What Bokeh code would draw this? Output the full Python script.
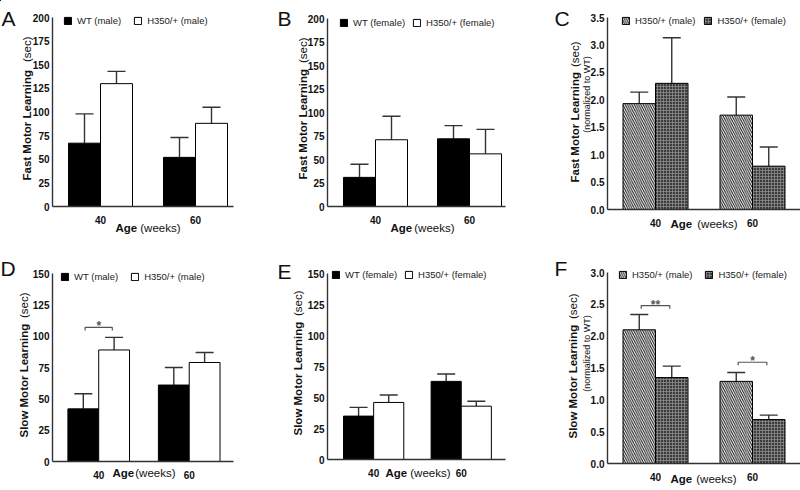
import math
from bokeh.plotting import figure
from bokeh.layouts import row, column
from bokeh.models import (Range1d, FixedTicker, Whisker, TeeHead, GridBox, Legend,
                          LegendItem, ColumnDataSource, CustomJSTickFormatter)
from bokeh.embed import file_html
from bokeh.resources import INLINE
from bokeh.core.properties import value

FONT = "Liberation Sans"

# ---------------- data ----------------
age_labels = ["40", "60"]

# A: Fast motor learning, males (sec)
a_wt_mean = [67, 52]
a_wt_err = [31, 21]
a_mut_mean = [130, 88]
a_mut_err = [13, 17]

# B: Fast motor learning, females (sec)
b_wt_mean = [31, 72]
b_wt_err = [14, 14]
b_mut_mean = [71, 56]
b_mut_err = [25, 26]

# C: Fast motor learning normalized to WT
c_male_mean = [1.93, 1.72]
c_male_err = [0.21, 0.33]
c_female_mean = [2.30, 0.79]
c_female_err = [0.83, 0.35]

# D: Slow motor learning, males (sec)
d_wt_mean = [42, 61]
d_wt_err = [12, 14]
d_mut_mean = [89, 79]
d_mut_err = [10, 8]

# E: Slow motor learning, females (sec)
e_wt_mean = [35, 63]
e_wt_err = [7, 6]
e_mut_mean = [46, 43]
e_mut_err = [6, 4]

# F: Slow motor learning normalized to WT
f_male_mean = [2.10, 1.29]
f_male_err = [0.24, 0.14]
f_female_mean = [1.35, 0.69]
f_female_err = [0.18, 0.07]

# significance brackets: (age index, level, mark)
d_sig = [(0, 107, "*")]
f_sig = [(0, 2.48, "**"), (1, 1.59, "*")]

sec_ticks = [0, 25, 50, 75, 100, 125, 150, 175, 200]
sec_tick_labels = ["0", "25", "50", "75", "100", "125", "150", "175", "200"]
sec2_ticks = [0, 25, 50, 75, 100, 125, 150]
sec2_tick_labels = ["0", "25", "50", "75", "100", "125", "150"]
norm_ticks = [0, 0.5, 1.0, 1.5, 2.0, 2.5, 3.0, 3.5]
norm_tick_labels = ["0.0", "0.5", "1.0", "1.5", "2.0", "2.5", "3.0", "3.5"]
norm2_ticks = [0, 0.5, 1.0, 1.5, 2.0, 2.5, 3.0]
norm2_tick_labels = ["0.0", "0.5", "1.0", "1.5", "2.0", "2.5", "3.0"]

STYLE_WT = dict(fill_color="black")
STYLE_MUT = dict(fill_color="white")
STYLE_MALE = dict(fill_color="white", hatch_pattern="\\", hatch_color="#111111",
                  hatch_scale=4.5, hatch_weight=1)
STYLE_FEMALE = dict(fill_color="#3c3c3c", hatch_pattern="+", hatch_color="#8c8c8c",
                    hatch_scale=3, hatch_weight=0.8)

W_PAGE, H_PAGE = 800, 490
TITLE_SIZE = "11.5px"

# overlay figure for the texts and legends that sit outside the panels' frames
ov = figure(width=W_PAGE, height=H_PAGE, x_range=Range1d(0, W_PAGE),
            y_range=Range1d(H_PAGE, 0), x_axis_type=None, y_axis_type=None,
            output_backend="svg", toolbar_location=None,
            min_border_left=0, min_border_right=0, min_border_top=0, min_border_bottom=0)
ov.outline_line_color = None
ov.xgrid.visible = False
ov.ygrid.visible = False
ov.background_fill_color = None
ov.border_fill_color = None


def otext(rx, ry, text, size, style="normal", angle=0.0, align="left",
          baseline="middle"):
    ov.text(x=[rx], y=[ry], text=[text], angle=angle, text_align=align,
            text_baseline=baseline, text_font=value(FONT), text_font_size=size,
            text_font_style=style, text_color="#111111")


def olegend(series, lx, ly, sp):
    items = []
    for name, _, _, style in series:
        # proxy renderer (off-canvas) that carries the bar style for the legend icon
        r = ov.vbar(x=[-50], top=[-50], bottom=[-60], width=1, line_color="black",
                    line_width=1, **style)
        items.append(LegendItem(label=name, renderers=[r]))
    lg = Legend(items=items, location=(lx, H_PAGE - (ly + 7.5)), orientation="horizontal",
                glyph_width=9, glyph_height=9, label_height=13, label_standoff=5,
                spacing=sp, padding=0, margin=0, label_text_font=FONT,
                label_text_font_size="9.5px", label_text_color="#222222",
                background_fill_alpha=0, border_line_alpha=0)
    ov.add_layout(lg)


def fmt(ticks, labels):
    return CustomJSTickFormatter(args=dict(tv=ticks, labs=labels),
                                 code="const i = tv.indexOf(tick); return i >= 0 ? labs[i] : '';")


def make_panel(cfg):
    ox, oy, W, H = cfg["box"]
    fl, ft, fr, fb = cfg["frame"]
    c1, c2, bw = cfg["centers"]
    gap = c2 - c1
    x0 = 1 - (c1 - fl) / gap
    x1 = 2 + (fr - c2) / gap
    ymax = cfg["ymax"]
    p = figure(width=W, height=H, x_range=Range1d(x0, x1), y_range=Range1d(0, ymax),
               output_backend="svg", toolbar_location=None,
               min_border_left=fl - ox, min_border_right=ox + W - fr,
               min_border_top=ft - oy, min_border_bottom=oy + H - fb)
    p.outline_line_color = None
    p.xgrid.visible = False
    p.ygrid.visible = False
    p.background_fill_color = "white"

    bwd = bw / gap
    groups = [1, 2]
    for k, (name, means, errs, style) in enumerate(cfg["series"]):
        xs = [g + (k - 0.5) * bwd for g in groups]
        src = ColumnDataSource(dict(x=xs, top=means, lo=means,
                                    hi=[m + e for m, e in zip(means, errs)]))
        p.vbar(x="x", top="top", bottom=0, width=bwd, source=src,
               line_color="black", line_width=1, **style)
        p.add_layout(Whisker(source=src, base="x", lower="lo", upper="hi",
                             dimension="height", line_color="#333333", line_width=1.4,
                             lower_head=None,
                             upper_head=TeeHead(size=18, line_color="#333333",
                                                line_width=1.4)))

    # significance brackets
    tip = 0.016 * ymax
    for gi, lvl, mark in cfg.get("sig", []):
        xa = groups[gi] - 0.5 * bwd + 0.02
        xb = groups[gi] + 0.5 * bwd - 0.02
        p.line(x=[xa, xa, xb, xb], y=[lvl - tip, lvl, lvl, lvl - tip],
               line_color="#555555", line_width=1.2)
        p.text(x=[groups[gi]], y=[lvl], text=[mark], text_align="center",
               text_baseline="alphabetic", y_offset=-1,
               text_font=value(FONT), text_font_size="12px",
               text_font_style="bold", text_color="#555555")

    # axes
    p.xaxis.ticker = FixedTicker(ticks=groups)
    p.xaxis.formatter = fmt(groups, age_labels)
    p.xaxis.minor_tick_line_color = None
    p.xaxis.major_label_standoff = 3
    p.yaxis.ticker = FixedTicker(ticks=cfg["yticks"])
    p.yaxis.formatter = fmt(cfg["yticks"], cfg["ylabels"])
    p.yaxis.major_tick_out = 3
    p.yaxis.major_tick_in = 0
    p.yaxis.minor_tick_line_color = None
    p.yaxis.major_label_standoff = 0
    for ax in (p.xaxis, p.yaxis):
        ax.axis_line_color = "#333333"
        ax.axis_line_width = 1.4
        ax.major_tick_line_color = "#333333" if ax is p.yaxis else None
        ax.major_tick_line_width = 1.2
        ax.major_label_text_font = FONT
        ax.major_label_text_font_size = "10px"
        ax.major_label_text_font_style = "bold"
        ax.major_label_text_color = "#111111"

    # legend and texts outside the frame, on the overlay in page pixels
    lx, ly, sp = cfg["legend"]
    olegend(cfg["series"], lx, ly, sp)
    letx, lety = cfg["letter_pos"]
    otext(letx, lety, cfg["letter"], "21px", baseline="alphabetic")
    yx, yb, yt = cfg["ytitle_pos"]
    otext(yx, yb, cfg["ytitle"], TITLE_SIZE, "bold", math.pi / 2, "left")
    otext(yx, yt, "(sec)", TITLE_SIZE, "normal", math.pi / 2, "right")
    if "ysub_pos" in cfg:
        sx, sy = cfg["ysub_pos"]
        otext(sx, sy, "(normalized to WT)", "9px", "normal", math.pi / 2, "center")
    xl, xr, xy = cfg["xtitle_pos"]
    otext(xl, xy, "Age", TITLE_SIZE, "bold")
    otext(xr, xy, "(weeks)", TITLE_SIZE, "normal", align="right")
    return p


panels = [
    dict(letter="A", box=(0, 0, 270, 245), frame=(52, 17, 233, 206), centers=(100, 195, 32),
         ymax=200, yticks=sec_ticks, ylabels=sec_tick_labels,
         series=[("WT (male)", a_wt_mean, a_wt_err, STYLE_WT),
                 ("H350/+ (male)", a_mut_mean, a_mut_err, STYLE_MUT)],
         legend=(63, 19, 12), letter_pos=(1, 18),
         ytitle="Fast Motor Learning", ytitle_pos=(26.5, 180, 36),
         xtitle_pos=(115, 180, 227)),
    dict(letter="B", box=(270, 0, 265, 245), frame=(327, 18, 505, 206), centers=(375, 469, 32),
         ymax=200, yticks=sec_ticks, ylabels=sec_tick_labels,
         series=[("WT (female)", b_wt_mean, b_wt_err, STYLE_WT),
                 ("H350/+ (female)", b_mut_mean, b_mut_err, STYLE_MUT)],
         legend=(339, 21, 7), letter_pos=(277, 18),
         ytitle="Fast Motor Learning", ytitle_pos=(302, 179, 37),
         xtitle_pos=(390, 454, 227)),
    dict(letter="C", box=(535, 0, 265, 245), frame=(607, 17, 800, 209), centers=(655, 752, 32.5),
         ymax=3.5, yticks=norm_ticks, ylabels=norm_tick_labels,
         series=[("H350/+ (male)", c_male_mean, c_male_err, STYLE_MALE),
                 ("H350/+ (female)", c_female_mean, c_female_err, STYLE_FEMALE)],
         legend=(621, 19, 8), letter_pos=(554, 18),
         ytitle="Fast Motor Learning", ytitle_pos=(574, 182, 41),
         ysub_pos=(586, 94),
         xtitle_pos=(670, 737, 223.5)),
    dict(letter="D", box=(0, 245, 270, 245), frame=(49, 273, 237, 461), centers=(97, 191, 32),
         ymax=150, yticks=sec2_ticks, ylabels=sec2_tick_labels,
         series=[("WT (male)", d_wt_mean, d_wt_err, STYLE_WT),
                 ("H350/+ (male)", d_mut_mean, d_mut_err, STYLE_MUT)],
         sig=d_sig,
         legend=(60, 275, 12), letter_pos=(0, 268),
         ytitle="Slow Motor Learning", ytitle_pos=(23, 437, 292),
         xtitle_pos=(112, 175, 472.5)),
    dict(letter="E", box=(270, 245, 265, 245), frame=(322, 273, 511, 459), centers=(371, 464, 32),
         ymax=150, yticks=sec2_ticks, ylabels=sec2_tick_labels,
         series=[("WT (female)", e_wt_mean, e_wt_err, STYLE_WT),
                 ("H350/+ (female)", e_mut_mean, e_mut_err, STYLE_MUT)],
         legend=(331, 273, 7), letter_pos=(277, 271),
         ytitle="Slow Motor Learning", ytitle_pos=(297.5, 435, 290),
         xtitle_pos=(385, 450, 472.5)),
    dict(letter="F", box=(535, 245, 265, 245), frame=(607, 272, 800, 463), centers=(655, 752, 32.5),
         ymax=3.0, yticks=norm2_ticks, ylabels=norm2_tick_labels,
         series=[("H350/+ (male)", f_male_mean, f_male_err, STYLE_MALE),
                 ("H350/+ (female)", f_female_mean, f_female_err, STYLE_FEMALE)],
         sig=f_sig,
         legend=(618, 273, 12), letter_pos=(554, 268),
         ytitle="Slow Motor Learning", ytitle_pos=(572.5, 438, 293),
         ysub_pos=(586, 353),
         xtitle_pos=(670, 736, 478)),
]

figs = [make_panel(c) for c in panels]
panels_layout = row(column(figs[0], figs[3]), column(figs[1], figs[4]),
                    column(figs[2], figs[5]))
grid = GridBox(children=[(panels_layout, 0, 0), (ov, 0, 0)])

open("out.html", "w").write(file_html(grid, INLINE))
